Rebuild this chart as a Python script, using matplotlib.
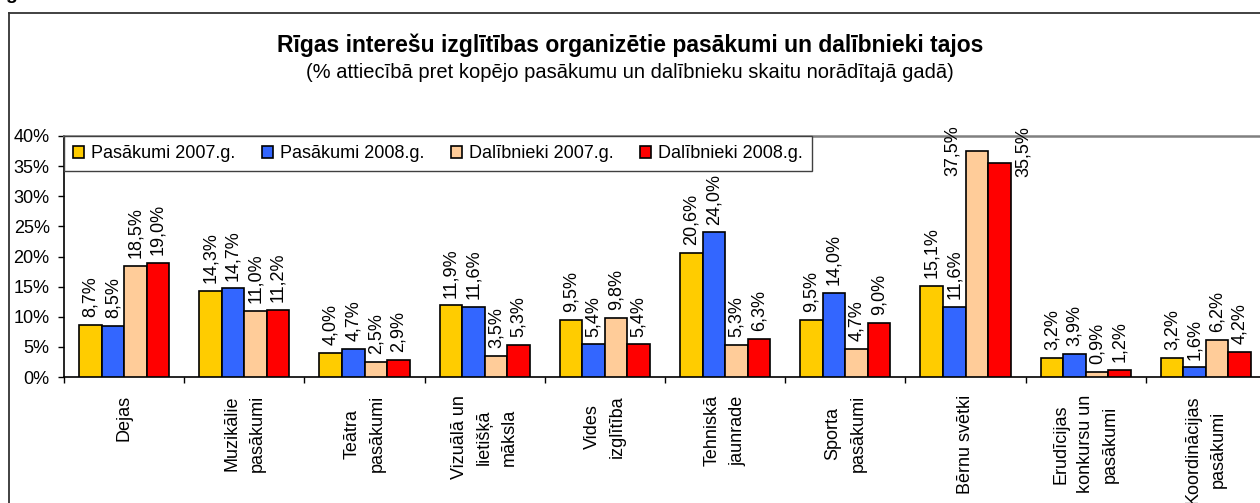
import matplotlib
matplotlib.use("Agg")
import matplotlib.pyplot as plt
from matplotlib.lines import Line2D
import numpy as np

plt.rcParams['font.family'] = ['Liberation Sans', 'DejaVu Sans']

categories = ["Dejas", "Muzikālie\npasākumi", "Teātra\npasākumi", "Vizuālā un\nlietišķā\nmāksla",
              "Vides\nizglītība", "Tehniskā\njaunrade", "Sporta\npasākumi", "Bērnu svētki",
              "Erudīcijas\nkonkursu un\npasākumi", "Koordinācijas\npasākumi"]
series_names = ["Pasākumi 2007.g.", "Pasākumi 2008.g.", "Dalībnieki 2007.g.", "Dalībnieki 2008.g."]
pasakumi_2007 = [8.7, 14.3, 4.0, 11.9, 9.5, 20.6, 9.5, 15.1, 3.2, 3.2]
pasakumi_2008 = [8.5, 14.7, 4.7, 11.6, 5.4, 24.0, 14.0, 11.6, 3.9, 1.6]
dalibnieki_2007 = [18.5, 11.0, 2.5, 3.5, 9.8, 5.3, 4.7, 37.5, 0.9, 6.2]
dalibnieki_2008 = [19.0, 11.2, 2.9, 5.3, 5.4, 6.3, 9.0, 35.5, 1.2, 4.2]
yticks = [0, 5, 10, 15, 20, 25, 30, 35, 40]

title = "Rīgas interešu izglītības organizētie pasākumi un dalībnieki tajos"
subtitle = "(% attiecībā pret kopējo pasākumu un dalībnieku skaitu norādītajā gadā)"

colors = ["#FFCC00", "#3366FF", "#FFCC99", "#FF0000"]
all_series = [pasakumi_2007, pasakumi_2008, dalibnieki_2007, dalibnieki_2008]

W, H = 1260, 503
fig = plt.figure(figsize=(W / 100, H / 100), dpi=100)
fig.patch.set_facecolor("white")

# axes geometry in pixels
ax_left, ax_right, ax_top, ax_bottom = 64, 1266, 136, 377
ax = fig.add_axes([ax_left / W, 1 - ax_bottom / H, (ax_right - ax_left) / W, (ax_bottom - ax_top) / H])

FS = 13
n = len(categories)
x = np.arange(n)
bw = 0.1875
offsets = [-1.5, -0.5, 0.5, 1.5]

for s, (vals, col, name) in enumerate(zip(all_series, colors, series_names)):
    xs = x + offsets[s] * bw
    ax.bar(xs, vals, width=bw, color=col, edgecolor="black", linewidth=1.2, label=name, zorder=3)
    for i, (xi, v) in enumerate(zip(xs, vals)):
        txt = f"{v:.1f}".replace(".", ",") + "%"
        if i == 7 and s == 2:
            ax.annotate(txt, xy=(xi, v), xytext=(-17.5, 0), textcoords="offset points",
                        rotation=90, ha="center", va="center", fontsize=FS)
        elif i == 7 and s == 3:
            ax.annotate(txt, xy=(xi, v), xytext=(17.5, 8), textcoords="offset points",
                        rotation=90, ha="center", va="center", fontsize=FS)
        else:
            ax.annotate(txt, xy=(xi, v), xytext=(0, 5.5), textcoords="offset points",
                        rotation=90, ha="center", va="bottom", fontsize=FS)

ax.set_xlim(-0.5, n - 0.5)
ax.set_ylim(0, 40)
ax.set_yticks(yticks)
ax.set_yticklabels([f"{t}%" for t in yticks], fontsize=FS)
ax.tick_params(axis="y", direction="out", length=6 * 0.72, width=1, pad=6, colors="black")

ax.set_xticks(np.arange(n + 1) - 0.5)
ax.set_xticklabels([])
ax.tick_params(axis="x", which="major", direction="out", length=6 * 0.72, width=1)
ax.set_xticks(x, minor=True)
ax.set_xticklabels(categories, minor=True, rotation=90, fontsize=FS, va="top", ha="center",
                   multialignment="center", linespacing=1.62)
ax.tick_params(axis="x", which="minor", length=0, pad=13)

for sp in ["left", "bottom"]:
    ax.spines[sp].set_color("black")
    ax.spines[sp].set_linewidth(1.2)
ax.spines["top"].set_color("#808080")
ax.spines["top"].set_linewidth(1.8)
ax.spines["right"].set_visible(False)

leg = ax.legend(loc="upper left", bbox_to_anchor=(0, 1.0), ncol=4, fontsize=FS,
                frameon=True, fancybox=False, framealpha=1, edgecolor="#404040",
                handlelength=0.62, handleheight=0.62, handletextpad=0.4,
                columnspacing=1.45, borderpad=0.5, borderaxespad=0)
leg.get_frame().set_linewidth(1.0)
leg.set_zorder(5)

fig.text(630 / W, 1 - 45 / H, title, ha="center", va="center", fontsize=16.5, fontweight="bold")
fig.text(630 / W, 1 - 72 / H, subtitle, ha="center", va="center", fontsize=14.5)

# outer chart frame (partly outside the image)
fig.add_artist(Line2D([8.5 / W, 8.5 / W], [1 - 13 / H, -0.1], transform=fig.transFigure,
                      color="#333333", linewidth=1.3))
fig.add_artist(Line2D([8.5 / W, 1.1], [1 - 13 / H, 1 - 13 / H], transform=fig.transFigure,
                      color="#333333", linewidth=1.3))
# fragment of preceding text line, cut off at the top
fig.text(5 / W, 1 + 1 / H, "g", ha="left", va="baseline", fontsize=14, fontweight="bold")

fig.savefig("out.png", dpi=100)
